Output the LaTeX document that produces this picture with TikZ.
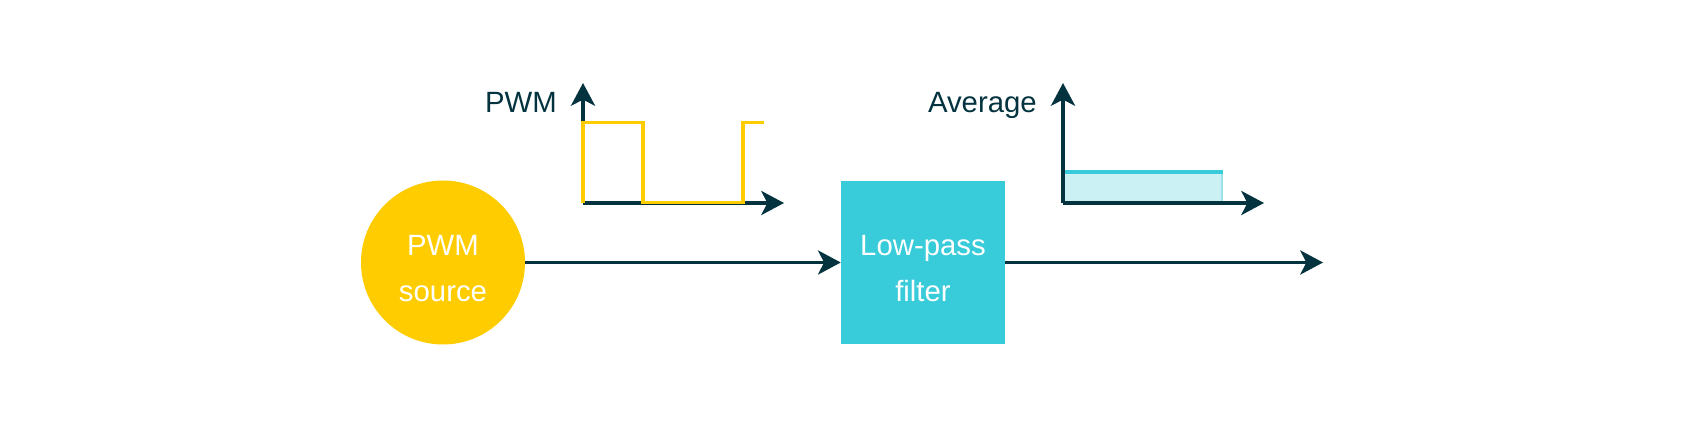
\documentclass[tikz,border=0pt]{standalone}
\usepackage{fontspec}
\setmainfont{Liberation Sans}
\usetikzlibrary{arrows.meta}
\definecolor{darkteal}{HTML}{03333F}
\definecolor{pwmyellow}{HTML}{FFCC00}
\definecolor{filtercyan}{HTML}{38CBD9}
\definecolor{lightcyan}{HTML}{CCF1F4}
\newcommand{\toppad}{\rule{0pt}{23.5pt}}
\tikzset{
  conn/.style={draw=darkteal, line width=2.75pt, -{Stealth[length=17pt, width=18pt, inset=4.5pt]}},
  axis/.style={draw=darkteal, line width=2.6pt, -{Stealth[length=17pt, width=18pt, inset=4.5pt]}},
  wave/.style={draw=pwmyellow, line width=2.6pt, line cap=rect},
  bigtext/.style={font=\fontsize{22}{34.5}\selectfont},
  srcnode/.style={circle, fill=pwmyellow, minimum size=123pt, inner sep=0pt, text=white, align=center, bigtext},
  filternode/.style={rectangle, fill=filtercyan, minimum width=123pt, minimum height=122pt, inner sep=0pt, text=white, align=center, bigtext},
  axlabel/.style={text=darkteal, bigtext, inner sep=0pt}
}
\begin{document}
\begin{tikzpicture}[x=0.75pt, y=-0.75pt]
\useasboundingbox[fill=white] (0,0) rectangle (1684,424);
% main nodes
\node[srcnode] (src) at (443,262.5) {\toppad PWM\\source};
\node[filternode] (filt) at (923,262.5) {\toppad Low-pass\\filter};
\coordinate (out) at (1323,262.5);
\draw[conn] (src.east) -- (filt.west);
\draw[conn] (filt.east) -- (out);
% PWM graph
\coordinate (po) at (583,203);
\coordinate (py) at (583,83);
\coordinate (px) at (784,203);
\draw[axis] (po) -- (py);
\draw[axis] (po) -- (px);
\draw[wave] (583,201) -- (583,122.7) -- (643,122.7) -- (643,202.7) -- (743,202.7) -- (743,122.7) -- (762.7,122.7);
\node[axlabel, anchor=base east] (pwmlab) at (557,113) {PWM};
% Average graph
\coordinate (ao) at (1063,203);
\coordinate (ay) at (1063,83);
\coordinate (ax) at (1264,203);
\fill[lightcyan] (1063,172) rectangle (1223,203);
\draw[draw=filtercyan, opacity=0.35, line width=1.5pt] (1222,172) -- (1222,202);
\draw[draw=filtercyan, line width=2.6pt] (1063,172) -- (1223,172);
\draw[axis] (ao) -- (ay);
\draw[axis] (ao) -- (ax);
\node[axlabel, anchor=base east] (avglab) at (1037,113) {Average};
\end{tikzpicture}
\end{document}
